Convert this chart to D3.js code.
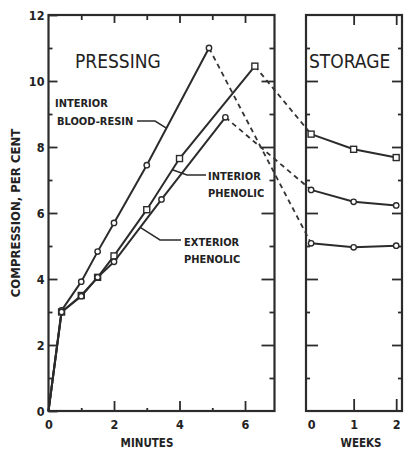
<!DOCTYPE html>
<html>
<head>
<meta charset="utf-8">
<title>Compression during pressing and storage</title>
<script src="https://d3js.org/d3.v7.min.js"></script>
<style>
  body { margin: 0; background: #fff; }
  svg text { font-family: "DejaVu Sans Condensed", "DejaVu Sans", sans-serif; fill: #222; }
  .frame { fill: none; stroke: #2b2b2b; stroke-width: 2.2; }
  .axis path { display: none; }
  .axis line { stroke: #2b2b2b; stroke-width: 1.8; }
  .axis text { font-size: 12.5px; font-weight: bold; }
</style>
</head>
<body>
<div id="chart"></div>
<script>
// pressing period, minutes vs compression (per cent)
const bloodMinutes = [0, 0.4, 1.0, 1.5, 2.0, 3.0, 4.9];
const bloodPress   = [0, 3.05, 3.92, 4.83, 5.7, 7.45, 11.0];
const intMinutes   = [0, 0.4, 1.0, 1.5, 2.0, 3.0, 4.0, 6.3];
const intPress     = [0, 3.0, 3.5, 4.05, 4.7, 6.1, 7.65, 10.45];
const extMinutes   = [0, 0.4, 1.0, 1.5, 2.0, 3.45, 5.4];
const extPress     = [0, 3.0, 3.48, 4.05, 4.52, 6.41, 8.9];

// storage period, weeks vs compression (per cent)
const weeks      = [0, 1, 2];
const bloodStore = [5.08, 4.96, 5.01];
const intStore   = [8.39, 7.93, 7.68];
const extStore   = [6.70, 6.34, 6.23];

const yTicks = [0, 2, 4, 6, 8, 10, 12];
const yMinor = [1, 3, 5, 7, 9, 11];
const minuteTicks = [0, 2, 4, 6];
const minuteMinor = [1, 3, 5];
const weekTicks = [0, 1, 2];

const W = 404, H = 451;
const svg = d3.select("#chart").append("svg")
  .attr("width", W).attr("height", H);

const y = d3.scaleLinear().domain([0, 12]).range([411, 15]);
const xMin = d3.scaleLinear().domain([0, 6.9]).range([48.5, 274.5]);
const xWk = d3.scaleLinear().domain([-0.12, 2.16]).range([306, 403]);

const series = [
  { name: "blood", minutes: bloodMinutes, press: bloodPress, store: bloodStore, marker: "circle" },
  { name: "interior", minutes: intMinutes, press: intPress, store: intStore, marker: "square" },
  { name: "exterior", minutes: extMinutes, press: extPress, store: extStore, marker: "circle" }
];

// frames
svg.append("rect").attr("class", "frame")
  .attr("x", xMin(0)).attr("y", y(12))
  .attr("width", xMin(6.9) - xMin(0)).attr("height", y(0) - y(12));
svg.append("rect").attr("class", "frame")
  .attr("x", xWk(-0.12)).attr("y", y(12))
  .attr("width", xWk(2.16) - xWk(-0.12) - 1).attr("height", y(0) - y(12));

// ticks, all pointing into the panels
function tickAxis(axis, tx, ty, vals, size, labels, pad) {
  const g = svg.append("g").attr("class", "axis")
    .attr("transform", `translate(${tx},${ty})`)
    .call(axis.tickValues(vals).tickSizeInner(-size).tickSizeOuter(0)
      .tickPadding(pad || 3).tickFormat(labels ? d3.format("d") : ""));
  return g;
}
// left panel
tickAxis(d3.axisLeft(y), xMin(0), 0, yTicks, 9, true, 4);
tickAxis(d3.axisLeft(y), xMin(0), 0, yMinor, 4);
tickAxis(d3.axisRight(y), xMin(6.9), 0, yTicks.slice(1, -1), 13);
tickAxis(d3.axisRight(y), xMin(6.9), 0, yMinor, 5);
tickAxis(d3.axisBottom(xMin), 0, y(0), minuteTicks, 10, true, 9);
tickAxis(d3.axisBottom(xMin), 0, y(0), minuteMinor, 3);
tickAxis(d3.axisTop(xMin), 0, y(12), [2, 4, 6], 8);
tickAxis(d3.axisTop(xMin), 0, y(12), minuteMinor, 5);
// right panel
tickAxis(d3.axisLeft(y), xWk(-0.12), 0, yTicks.slice(1, -1), 12);
tickAxis(d3.axisLeft(y), xWk(-0.12), 0, yMinor, 4);
tickAxis(d3.axisRight(y), xWk(2.16) - 1, 0, yTicks.slice(1, -1), 10);
tickAxis(d3.axisRight(y), xWk(2.16) - 1, 0, yMinor, 4);
const wb = tickAxis(d3.axisBottom(xWk), 0, y(0), weekTicks, 12, true, 9);
wb.selectAll(".tick").filter(d => d === 0).select("line").remove();
tickAxis(d3.axisTop(xWk), 0, y(12), [1, 2], 10);

// lines
const lineMin = d3.line().x(d => xMin(d[0])).y(d => y(d[1]));
const lineWk = d3.line().x(d => xWk(d[0])).y(d => y(d[1]));

series.forEach(s => {
  const pts = s.minutes.map((m, i) => [m, s.press[i]]);
  const st = weeks.map((w, i) => [w, s.store[i]]);
  svg.append("path").attr("d", lineMin(pts))
    .attr("fill", "none").attr("stroke", "#2b2b2b").attr("stroke-width", 2);
  svg.append("path").attr("d", lineWk(st))
    .attr("fill", "none").attr("stroke", "#2b2b2b").attr("stroke-width", 2);
  // dashed link from end of pressing to start of storage
  const last = pts[pts.length - 1];
  svg.append("line")
    .attr("x1", xMin(last[0])).attr("y1", y(last[1]))
    .attr("x2", xWk(weeks[0])).attr("y2", y(s.store[0]))
    .attr("stroke", "#333").attr("stroke-width", 1.8)
    .attr("stroke-dasharray", "5,4");

  const marks = pts.slice(1).map(p => [xMin(p[0]), y(p[1])])
    .concat(st.map(p => [xWk(p[0]), y(p[1])]));
  marks.forEach(([cx, cy]) => {
    if (s.marker === "square") {
      svg.append("rect").attr("x", cx - 3).attr("y", cy - 3)
        .attr("width", 6).attr("height", 6)
        .attr("fill", "#fff").attr("stroke", "#2b2b2b").attr("stroke-width", 1.4);
    } else {
      svg.append("circle").attr("cx", cx).attr("cy", cy).attr("r", 2.7)
        .attr("fill", "#fff").attr("stroke", "#2b2b2b").attr("stroke-width", 1.4);
    }
  });
});

// point on a pressing curve at a given minute, for leader lines
function at(s, m) {
  const v = d3.scaleLinear().domain(s.minutes).range(s.press)(m);
  return [xMin(m), y(v)];
}
function leader(x0, yy, x1, target) {
  svg.append("path")
    .attr("d", `M${x0},${yy}L${x1},${yy}L${target[0]},${target[1]}`)
    .attr("fill", "none").attr("stroke", "#2b2b2b").attr("stroke-width", 1.5);
}
leader(137, 121, 155, at(series[0], 3.6));
leader(206, 175, 187, at(series[1], 3.78));
leader(181, 240, 160, at(series[2], 2.8));

// labels
function label(txt, x, yy, size, weight, anchor) {
  svg.append("text").attr("x", x).attr("y", yy)
    .attr("text-anchor", anchor || "start")
    .style("font-size", size + "px").style("font-weight", weight || "bold")
    .text(txt);
}
label("PRESSING", 75, 68, 19, "normal");
label("STORAGE", 309, 68, 19, "normal");
label("INTERIOR", 55, 107, 11);
label("BLOOD-RESIN", 57, 125, 11);
label("INTERIOR", 208, 180, 11);
label("PHENOLIC", 208, 197, 11);
label("EXTERIOR", 184, 246, 11);
label("PHENOLIC", 184, 263, 11);
label("MINUTES", 147, 447, 11.5, "bold", "middle");
label("WEEKS", 361, 447, 11.5, "bold", "middle");

svg.append("text")
  .attr("transform", `translate(20,${(y(0) + y(12)) / 2}) rotate(-90)`)
  .attr("text-anchor", "middle")
  .style("font-size", "13px").style("font-weight", "bold")
  .text("COMPRESSION,  PER CENT");
</script>
</body>
</html>
